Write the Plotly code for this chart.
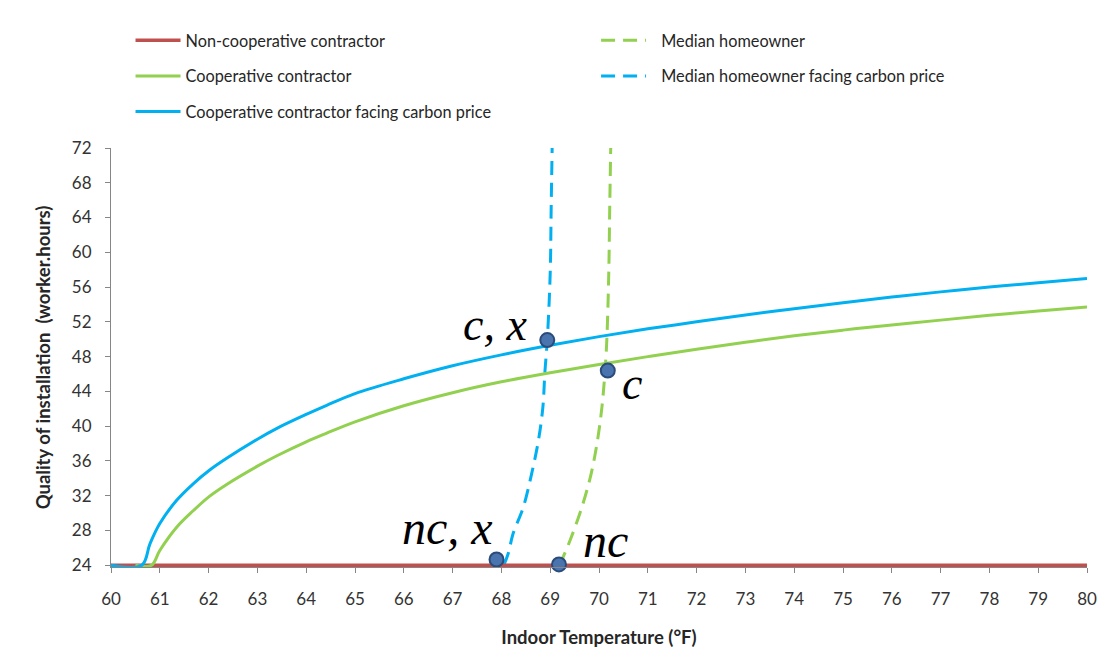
import plotly.graph_objects as go

# ---- data ----
# Cooperative contractor facing carbon price (blue solid)
x_coop_carbon = [60, 60.63, 60.80, 61.00, 61.35, 61.69, 62.01, 62.37, 63.00, 63.40, 64.00, 64.42, 65.00,
                 66, 67, 68, 69, 70, 71, 72, 73, 74, 75, 76, 77, 78, 79, 80]
y_coop_carbon = [24, 24, 26.5, 28.8, 31.5, 33.4, 34.9, 36.3, 38.5, 39.75, 41.35, 42.4, 43.75,
                 45.45, 46.95, 48.2, 49.3, 50.3, 51.2, 52.0, 52.8, 53.5, 54.2, 54.85, 55.45, 56.0, 56.5, 57.0]

# Cooperative contractor (green solid)
x_coop = [60.50, 60.83, 61.00, 61.35, 61.69, 62.01, 62.37, 63.00, 63.40, 64.00, 64.42, 65.00,
          66, 67, 68, 69, 70, 71, 72, 73, 74, 75, 76, 77, 78, 79, 80]
y_coop = [24, 24, 25.7, 28.4, 30.3, 31.9, 33.3, 35.4, 36.6, 38.2, 39.2, 40.5,
          42.35, 43.85, 45.1, 46.15, 47.1, 48.0, 48.85, 49.65, 50.4, 51.05, 51.65, 52.2, 52.75, 53.25, 53.7]

# Non-cooperative contractor (red solid)
x_noncoop = [60, 80]
y_noncoop = [24, 24]

# Median homeowner (green dashed)
x_median = [69.20, 69.24, 69.41, 69.65, 69.84, 69.97, 70.06, 70.12, 70.16, 70.20, 70.22, 70.24]
y_median = [24, 24.6, 26.9, 30.7, 34.55, 38.4, 42.2, 46.1, 49.9, 57.6, 65.2, 72]

# Median homeowner facing carbon price (blue dashed)
x_median_carbon = [68.05, 68.14, 68.24, 68.45, 68.62, 68.76, 68.85, 68.89, 68.94, 69.00, 69.02, 69.04]
y_median_carbon = [24, 25.35, 27.65, 30.7, 34.55, 38.4, 42.2, 46.1, 49.9, 57.6, 65.2, 72]

# Equilibrium points
pt_x = [68.94, 70.18, 67.90, 69.18]
pt_y = [49.9, 46.4, 24.66, 24.1]

# Point labels
lbl_text = ["c, x", "c", "nc, x", "nc"]
lbl_x = [67.87, 70.68, 66.90, 70.13]
lbl_y = [51.7, 44.9, 28.3, 26.9]
lbl_size = [46, 46, 48, 48]

x_ticks = list(range(60, 81))
y_ticks = list(range(24, 73, 4))

RED = "#C0504D"
GREEN = "#92D050"
BLUE = "#00B0F0"
FONT = "Lato"

fig = go.Figure()

fig.add_trace(go.Scatter(x=x_median, y=y_median, mode="lines", name="\u2002\u2009Median homeowner",
                         line=dict(color=GREEN, width=3, dash="14px,8px", shape="spline"),
                         legend="legend2", legendgroup="g4"))
fig.add_trace(go.Scatter(x=x_median_carbon, y=y_median_carbon, mode="lines",
                         name="\u2002\u2009Median homeowner facing carbon price",
                         line=dict(color=BLUE, width=3, dash="14px,8px", shape="spline"),
                         legend="legend2", legendgroup="g5"))
fig.add_trace(go.Scatter(x=x_noncoop, y=y_noncoop, mode="lines", name="Non-cooperative contractor",
                         line=dict(color=RED, width=3.5), legendgroup="g1"))
fig.add_trace(go.Scatter(x=x_coop, y=y_coop, mode="lines", name="Cooperative contractor",
                         line=dict(color=GREEN, width=3, shape="spline", smoothing=1.0),
                         legendgroup="g2"))
fig.add_trace(go.Scatter(x=x_coop_carbon, y=y_coop_carbon, mode="lines",
                         name="Cooperative contractor facing carbon price",
                         line=dict(color=BLUE, width=3, shape="spline", smoothing=1.0),
                         legendgroup="g3"))
fig.add_trace(go.Scatter(x=pt_x, y=pt_y, mode="markers", showlegend=False, cliponaxis=False,
                         marker=dict(size=14, color="#4A74AE", line=dict(color="#2B4B7A", width=2))))

for t, x, y, s in zip(lbl_text, lbl_x, lbl_y, lbl_size):
    fig.add_annotation(x=x, y=y, text="<i>" + t + "</i>", showarrow=False,
                       font=dict(family="Liberation Serif", size=s, color="black"),
                       xanchor="center", yanchor="middle")

legend_common = dict(font=dict(family=FONT, size=16.3, color="#262626"),
                     bgcolor="rgba(0,0,0,0)", tracegroupgap=11.5, itemwidth=45,
                     orientation="v", xanchor="left", yanchor="top")

fig.update_layout(
    width=1108, height=663,
    margin=dict(l=103, r=29, t=140, b=104),
    paper_bgcolor="white", plot_bgcolor="white",
    legend=dict(x=0.020, y=1.298, **legend_common),
    legend2=dict(x=0.497, y=1.298, **legend_common),
    xaxis=dict(range=[60, 80], tickvals=x_ticks, ticks="outside", ticklen=5,
               tickcolor="#868686", showline=True, linecolor="#868686", linewidth=1,
               showgrid=False, zeroline=False, ticklabelstandoff=12,
               tickfont=dict(family=FONT, size=17, color="#333333"),
               title=dict(text="<b>Indoor Temperature (°F)</b>", standoff=22,
                          font=dict(family=FONT, size=18.5, color="#262626"))),
    yaxis=dict(range=[23.8, 72], tickvals=y_ticks, ticks="outside", ticklen=5,
               tickcolor="#868686", showline=True, linecolor="#868686", linewidth=1,
               showgrid=False, zeroline=False, ticklabelstandoff=10,
               tickfont=dict(family=FONT, size=17, color="#333333"),
               title=dict(text="<b>Quality of installation  (worker.hours)</b>", standoff=16,
                          font=dict(family=FONT, size=18.5, color="#262626"))),
)

fig.write_html("out.html")
